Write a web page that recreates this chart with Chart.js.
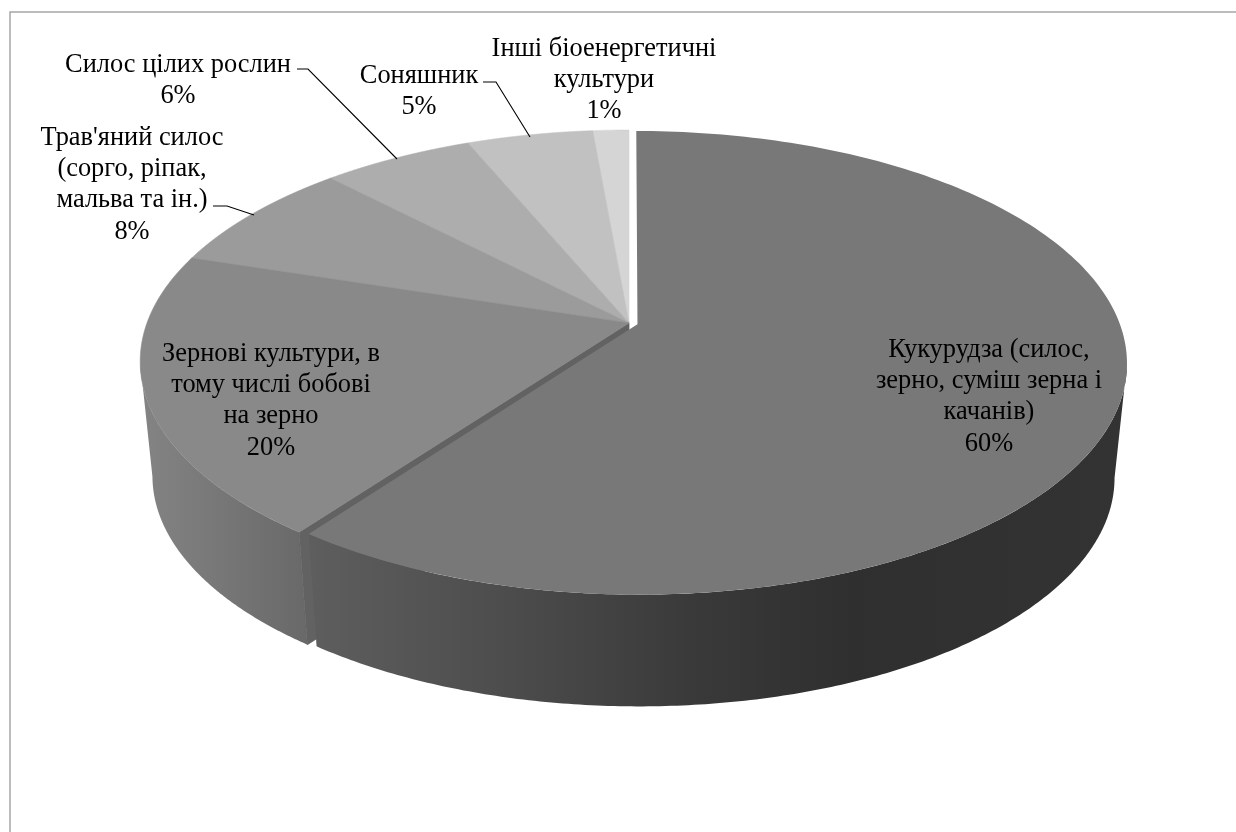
<!doctype html>
<html>
<head>
<meta charset="utf-8">
<title>Біоенергетичні культури</title>
<script src="https://cdn.jsdelivr.net/npm/chart.js@4/dist/chart.umd.js"></script>
<style>
body { margin: 0; background: #fff; }
canvas { display: block; }
</style>
</head>
<body>
<canvas id="chart-area" width="1236" height="832"></canvas>
<script>
// data
var categories = [
    "Кукурудза (силос,\nзерно, суміш зерна і\nкачанів)",
    "Зернові культури, в\nтому числі бобові\nна зерно",
    "Трав'яний силос\n(сорго, ріпак,\nмальва та ін.)",
    "Силос цілих рослин",
    "Соняшник",
    "Інші біоенергетичні\nкультури"
];
var shares = [60.1, 19.8, 7.9, 5.9, 4.9, 1.4];

// look
var topColors = ["#787878", "#898989", "#9b9b9b", "#adadad", "#c1c1c1", "#d5d5d5"];
var explode = [0.0185, 0, 0, 0, 0, 0];
var labelPos = [[989, 350], [271, 354], [132, 138], [178, 65], [419, 76], [604, 49]];
var leaders = [
    null,
    null,
    [[213, 206], [227, 206], [254, 215]],
    [[297, 69], [308, 69], [397, 159]],
    [[483, 82], [496, 82], [530, 137]],
    null
];

// perspective of the pie: top face and bottom face
var topFace = { cx: 629, cy: 323, rx: 482, ry: 225, s: 1 };
var botFace = { cx: 629, cy: 438, rx: 482, ry: 228, s: 0.975 };
var tilt = 0.166;
var silhouette = 0.17; // angle where the side wall turns away from the viewer

function project(face, a, ex, ey) {
    return flat(face, Math.cos(a) + ex, Math.sin(a) + ey);
}
function flat(face, u, v) {
    var w = 1 - tilt * v;
    return { x: face.cx + face.s * face.rx * u / w, y: face.cy + face.s * face.ry * v / w };
}

function sideGradient(ctx, stops) {
    var g = ctx.createLinearGradient(stops[0][0], 0, stops[stops.length - 1][0], 0);
    var span = stops[stops.length - 1][0] - stops[0][0];
    stops.forEach(function (st) { g.addColorStop((st[0] - stops[0][0]) / span, st[1]); });
    return g;
}

function drawSide(ctx, a0, a1, ex, ey, fill) {
    var n = 200, i, p;
    ctx.beginPath();
    for (i = 0; i <= n; i++) {
        p = project(topFace, a0 + (a1 - a0) * i / n, ex, ey);
        if (i) ctx.lineTo(p.x, p.y); else ctx.moveTo(p.x, p.y);
    }
    for (i = n; i >= 0; i--) {
        p = project(botFace, a0 + (a1 - a0) * i / n, ex, ey);
        ctx.lineTo(p.x, p.y);
    }
    ctx.closePath();
    ctx.fillStyle = fill;
    ctx.fill();
}

function drawTop(ctx, a0, a1, ex, ey, fill) {
    var n = 200, i, c = flat(topFace, ex, ey), p;
    ctx.beginPath();
    ctx.moveTo(c.x, c.y);
    for (i = 0; i <= n; i++) {
        p = project(topFace, a0 + (a1 - a0) * i / n, ex, ey);
        ctx.lineTo(p.x, p.y);
    }
    ctx.closePath();
    ctx.fillStyle = fill;
    ctx.strokeStyle = fill;
    ctx.lineWidth = 0.6;
    ctx.fill();
    if (!ex && !ey) ctx.stroke(); // hides the seams between neighbour slices
}

var pie3d = {
    id: "pie3d",
    beforeDatasetsDraw: function (chart) {
        var ctx = chart.ctx;
        var arcs = chart.getDatasetMeta(0).data;
        ctx.save();

        // frame
        ctx.strokeStyle = "#a6a6a6";
        ctx.lineWidth = 1.5;
        ctx.beginPath();
        ctx.moveTo(10, 832);
        ctx.lineTo(10, 12);
        ctx.lineTo(1236, 12);
        ctx.stroke();

        var off = arcs.map(function (arc, i) {
            var mid = (arc.startAngle + arc.endAngle) / 2;
            return [explode[i] * Math.cos(mid), explode[i] * Math.sin(mid)];
        });

        // side of the grain slice, then its cut face, then the big slice side
        drawSide(ctx, arcs[1].startAngle, Math.PI - silhouette, 0, 0,
            sideGradient(ctx, [[140, "#848484"], [220, "#777777"], [305, "#696969"]]));

        var e = arcs[1].startAngle;
        var a = flat(topFace, 0, 0), b = project(topFace, e, 0, 0);
        var c = project(botFace, e, 0, 0), d = flat(botFace, 0, 0);
        ctx.beginPath();
        ctx.moveTo(a.x, a.y);
        ctx.lineTo(b.x, b.y);
        ctx.lineTo(c.x, c.y);
        ctx.lineTo(d.x, d.y);
        ctx.closePath();
        ctx.fillStyle = "#626262";
        ctx.strokeStyle = "#626262";
        ctx.lineWidth = 0.8;
        ctx.fill();
        ctx.stroke();

        drawSide(ctx, silhouette, arcs[0].endAngle, off[0][0], off[0][1],
            sideGradient(ctx, [[310, "#5e5e5e"], [490, "#4e4e4e"], [700, "#393939"], [850, "#2f2f2f"], [1130, "#333333"]]));

        // top faces
        for (var i = arcs.length - 1; i >= 0; i--) {
            drawTop(ctx, arcs[i].startAngle, arcs[i].endAngle, off[i][0], off[i][1], topColors[i]);
        }

        ctx.restore();
        return false; // arcs are painted above in perspective
    },
    afterDraw: function (chart) {
        var ctx = chart.ctx;
        var total = shares.reduce(function (s, v) { return s + v; }, 0);
        ctx.save();
        ctx.fillStyle = "#000";
        ctx.font = '26.4px "Liberation Serif"';
        ctx.textAlign = "center";
        ctx.textBaseline = "middle";
        categories.forEach(function (name, i) {
            var lines = name.split("\n");
            lines.push(Math.round(shares[i] / total * 100) + "%");
            lines.forEach(function (line, j) {
                ctx.fillText(line, labelPos[i][0], labelPos[i][1] + j * 31.2);
            });
        });
        ctx.strokeStyle = "#000";
        ctx.lineWidth = 1.1;
        leaders.forEach(function (pts) {
            if (!pts) return;
            ctx.beginPath();
            pts.forEach(function (pt, j) {
                if (j) ctx.lineTo(pt[0], pt[1]); else ctx.moveTo(pt[0], pt[1]);
            });
            ctx.stroke();
        });
        ctx.restore();
    }
};

new Chart(document.getElementById("chart-area").getContext("2d"), {
    type: "pie",
    data: {
        labels: categories,
        datasets: [{ data: shares, backgroundColor: topColors, borderWidth: 0 }]
    },
    options: {
        responsive: false,
        animation: false,
        layout: { padding: 0 },
        plugins: { legend: { display: false }, tooltip: { enabled: false } }
    },
    plugins: [pie3d]
});
</script>
</body>
</html>
